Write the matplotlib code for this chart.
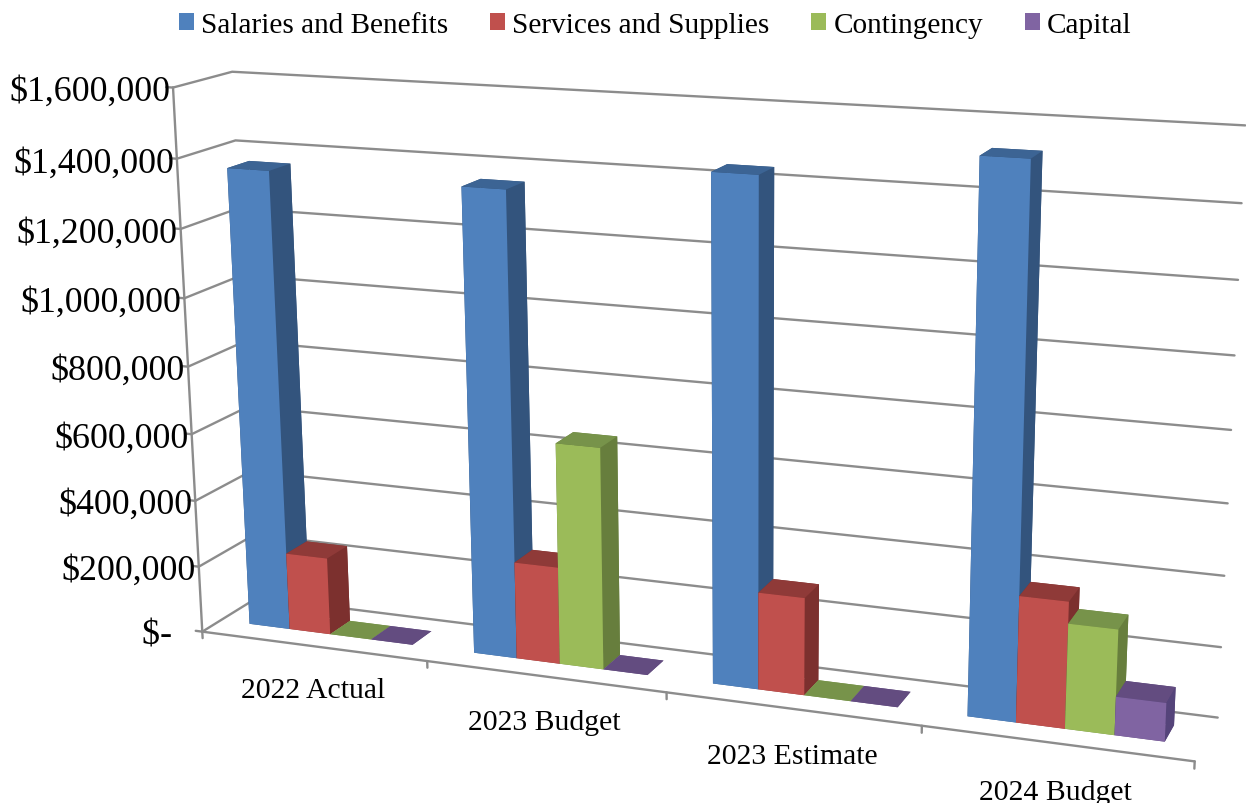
import matplotlib
matplotlib.use("Agg")
import matplotlib.pyplot as plt
import numpy as np
from matplotlib.patches import Patch
from mpl_toolkits.mplot3d import proj3d

plt.rcParams["font.family"] = ["Liberation Serif", "DejaVu Serif"]

W, H = 1246, 804

categories = ["2022 Actual", "2023 Budget", "2023 Estimate", "2024 Budget"]
series_names = ["Salaries and Benefits", "Services and Supplies", "Contingency", "Capital"]
salaries = [1361000, 1353000, 1437000, 1522000]
services = [232000, 286000, 281000, 356000]
contingency = [0, 648000, 0, 295000]
capital = [0, 0, 0, 108000]
series_values = [salaries, services, contingency, capital]
tick_values = [0, 200000, 400000, 600000, 800000, 1000000, 1200000, 1400000, 1600000]
tick_labels = ["$-   ", "$200,000", "$400,000", "$600,000", "$800,000",
               "$1,000,000", "$1,200,000", "$1,400,000", "$1,600,000"]

# face colours per series: front, top, side
FRONT = ["#4F81BD", "#C0504D", "#9BBB59", "#8064A2"]
TOP = ["#3C6494", "#8F3A38", "#77934A", "#634C80"]
SIDE = ["#33547D", "#7C302E", "#677E3D", "#55447A"]
GRID = "#8C8C8C"

ZMAX = 1600000
BAR_W, MARGIN = 0.183, 0.132
Y0, Y1 = 0.33, 0.71

# camera calibration: (category, depth, share of axis height) -> pixel on the canvas, weight
CAMERA = [
    ((0, 0, 0), (203, 632), 4), ((0, 0, 1), (172.5, 88.5), 4),
    ((0, 1, 1), (234, 72.5), 2), ((0, 1, 0), (248, 604), 1),
    ((4, 1, 1), (1245, 127), 2), ((4, 1, 0), (1218, 717), 2),
    ((4, 0, 0), (1195, 762), 3), ((1, 0, 0), (427, 663), 2),
    ((2, 0, 0), (666, 695), 2), ((3, 0, 0), (921, 728), 2),
    ((0, 1, 0.875), (237, 141), 1), ((4, 1, 0.25), (1225, 576), 1),
]


def fit_camera(pairs):
    A, b = [], []
    for (X, Y, Z), (u, v), k in pairs:
        A.append([k * c for c in [X, Y, Z, 1, 0, 0, 0, 0, -u * X, -u * Y, -u * Z]]); b.append(k * u)
        A.append([k * c for c in [0, 0, 0, 0, X, Y, Z, 1, -v * X, -v * Y, -v * Z]]); b.append(k * v)
    p = np.linalg.lstsq(np.array(A, float), np.array(b, float), rcond=None)[0]
    P = np.append(p, 1).reshape(3, 4)
    P[:, 2] /= ZMAX                   # z runs in dollars
    M = np.zeros((4, 4))
    M[0] = P[0]
    M[1] = H * P[2] - P[1]            # canvas y points up
    M[2] = 1e-3 * P[2] + [0, 0, 0, -1]   # depth grows with w
    M[3] = P[2]
    return M


PROJ = fit_camera(CAMERA)

fig = plt.figure(figsize=(W / 100, H / 100), dpi=100)
ax = fig.add_axes([0, 0, 1, 1], projection="3d", computed_zorder=False)
ax.set_proj_type("ortho")   # no view-cube clipping of the lines
ax.get_proj = lambda: PROJ
ax.apply_aspect = lambda position=None: None
ax._viewLim.set_points(np.array([[0, 0], [W, H]], float))
ax.set_xticks([]); ax.set_yticks([]); ax.set_zticks([])
ax.set_axis_off()
ax.patch.set_alpha(0)


def line3(xs, ys, zs):
    ax.plot(xs, ys, zs, color=GRID, lw=1.7, zorder=1, solid_capstyle="round")


def label3(x, y, z, s, **kw):
    px, py, _ = proj3d.proj_transform(x, y, z, PROJ)
    ax.text2D(px, py, s, transform=ax.transData, color="black", **kw)


# walls and axes
for z in tick_values:
    line3([0, 0, 4], [0, 1, 1], [z, z, z])
    line3([-0.03, 0], [0, 0], [z, z])
line3([0, 0], [0, 0], [0, ZMAX])
line3([0, 4], [0, 0], [0, 0])
for i in range(5):
    line3([i, i], [0, 0], [0, -20000])

# bars, left to right so nearer side faces stay on top
order = 2
for c in range(len(categories)):
    for s, vals in enumerate(series_values):
        cols = [TOP[s], TOP[s], FRONT[s], SIDE[s], SIDE[s], SIDE[s]]
        ax.bar3d(c + MARGIN + s * BAR_W, Y0, 0, BAR_W, Y1 - Y0, vals[c],
                 color=cols, shade=False, linewidth=0, zorder=order)
        order += 1

# axis labels
for z, lab in zip(tick_values, tick_labels):
    label3(-0.014, 0, z - 12000, lab, ha="right", va="center", fontsize=25.8)
for c, lab in enumerate(categories):
    label3(c * 1.005 + 0.49, 0, -136000, lab, ha="center", va="center", fontsize=21.4)

handles = [Patch(facecolor=f, edgecolor="none", label=n) for f, n in zip(FRONT, series_names)]
fig.legend(handles=handles, loc="upper center", bbox_to_anchor=(0.526, 1.017), ncol=4, frameon=False,
           fontsize=21.1, handlelength=0.51, handleheight=0.51, handletextpad=0.24, columnspacing=1.43)

fig.savefig("out.png", dpi=100)
